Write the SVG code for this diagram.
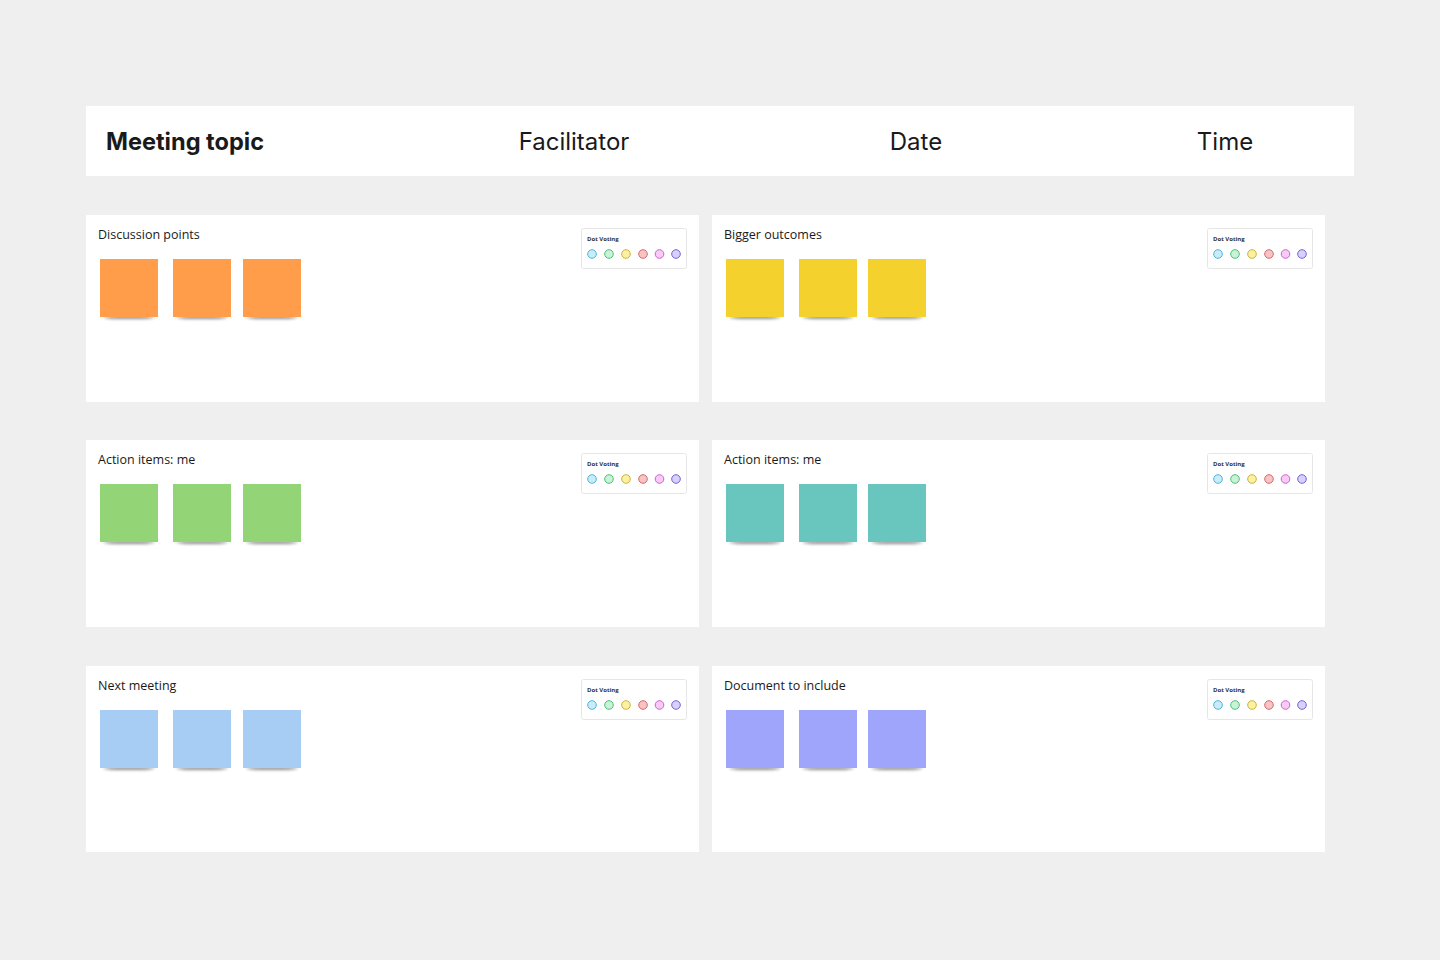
<svg xmlns="http://www.w3.org/2000/svg" width="1440" height="960" viewBox="0 0 1440 960">
<defs>
<style>
.hdr{font-family:Inter,"Liberation Sans",sans-serif;font-size:24px;fill:#1a1a1a}
.ttl{font-family:"Open Sans","Liberation Sans",sans-serif;font-size:12.5px;fill:#1a1a1a}
.dv{font-family:"Open Sans","Liberation Sans",sans-serif;font-size:6px;font-weight:700;fill:#333}
.panel{fill:#fff}
.dvbox{fill:#fff;stroke:#e6e6e6;stroke-width:1}
.d1{fill:#c8ecfa;stroke:#4fb6d8}
.d2{fill:#c9f2d6;stroke:#4cc27a}
.d3{fill:#fcf1a0;stroke:#cfb23a}
.d4{fill:#f8c3c3;stroke:#d4696c}
.d5{fill:#f8caf6;stroke:#cc62cc}
.d6{fill:#d8d1fb;stroke:#7562d6}
</style>
<filter id="sh" x="-20%" y="-200%" width="140%" height="500%"><feGaussianBlur stdDeviation="1.6"/></filter>
<g id="dots">
<rect class="dvbox" x="0.5" y="0.5" width="105" height="40" rx="2"/>
<text class="dv" x="6" y="12.5">Dot Voting</text>
<circle class="d1" cx="11" cy="26" r="4.3"/>
<circle class="d2" cx="28" cy="26" r="4.3"/>
<circle class="d3" cx="45" cy="26" r="4.3"/>
<circle class="d4" cx="62" cy="26" r="4.3"/>
<circle class="d5" cx="78.5" cy="26" r="4.3"/>
<circle class="d6" cx="95" cy="26" r="4.3"/>
</g>
<g id="stk">
<ellipse cx="29" cy="58.5" rx="26" ry="1.6" fill="#000" opacity="0.45" filter="url(#sh)"/>
<rect x="0" y="0" width="58" height="58"/>
</g>
</defs>
<rect width="1440" height="960" fill="#efefef"/>
<g id="header">
<rect x="86" y="106" width="1268" height="70" fill="#fff"/>
<text class="hdr" x="106" y="150" font-weight="700" textLength="158" lengthAdjust="spacingAndGlyphs">Meeting topic</text>
<text class="hdr" x="574" y="150" text-anchor="middle">Facilitator</text>
<text class="hdr" x="916" y="150" text-anchor="middle">Date</text>
<text class="hdr" x="1225" y="150" text-anchor="middle">Time</text>
</g>
<g id="panel-discussion">
<rect class="panel" x="86" y="215" width="613" height="187"/>
<text class="ttl" x="98" y="239">Discussion points</text>
<use href="#dots" x="581" y="228"/>
<g fill="#ff9d4a"><use href="#stk" x="100" y="259"/><use href="#stk" x="173" y="259"/><use href="#stk" x="243" y="259"/></g>
</g>
<g id="panel-outcomes">
<rect class="panel" x="712" y="215" width="613" height="187"/>
<text class="ttl" x="724" y="239">Bigger outcomes</text>
<use href="#dots" x="1207" y="228"/>
<g fill="#f4d12c"><use href="#stk" x="726" y="259"/><use href="#stk" x="799" y="259"/><use href="#stk" x="868" y="259"/></g>
</g>
<g id="panel-action-left">
<rect class="panel" x="86" y="440" width="613" height="187"/>
<text class="ttl" x="98" y="464">Action items: me</text>
<use href="#dots" x="581" y="453"/>
<g fill="#93d476"><use href="#stk" x="100" y="484"/><use href="#stk" x="173" y="484"/><use href="#stk" x="243" y="484"/></g>
</g>
<g id="panel-action-right">
<rect class="panel" x="712" y="440" width="613" height="187"/>
<text class="ttl" x="724" y="464">Action items: me</text>
<use href="#dots" x="1207" y="453"/>
<g fill="#68c6bf"><use href="#stk" x="726" y="484"/><use href="#stk" x="799" y="484"/><use href="#stk" x="868" y="484"/></g>
</g>
<g id="panel-next">
<rect class="panel" x="86" y="666" width="613" height="186"/>
<text class="ttl" x="98" y="690">Next meeting</text>
<use href="#dots" x="581" y="679"/>
<g fill="#a8cdf5"><use href="#stk" x="100" y="710"/><use href="#stk" x="173" y="710"/><use href="#stk" x="243" y="710"/></g>
</g>
<g id="panel-document">
<rect class="panel" x="712" y="666" width="613" height="186"/>
<text class="ttl" x="724" y="690">Document to include</text>
<use href="#dots" x="1207" y="679"/>
<g fill="#9ea5fa"><use href="#stk" x="726" y="710"/><use href="#stk" x="799" y="710"/><use href="#stk" x="868" y="710"/></g>
</g>
<g id="connectors"/>
</svg>
